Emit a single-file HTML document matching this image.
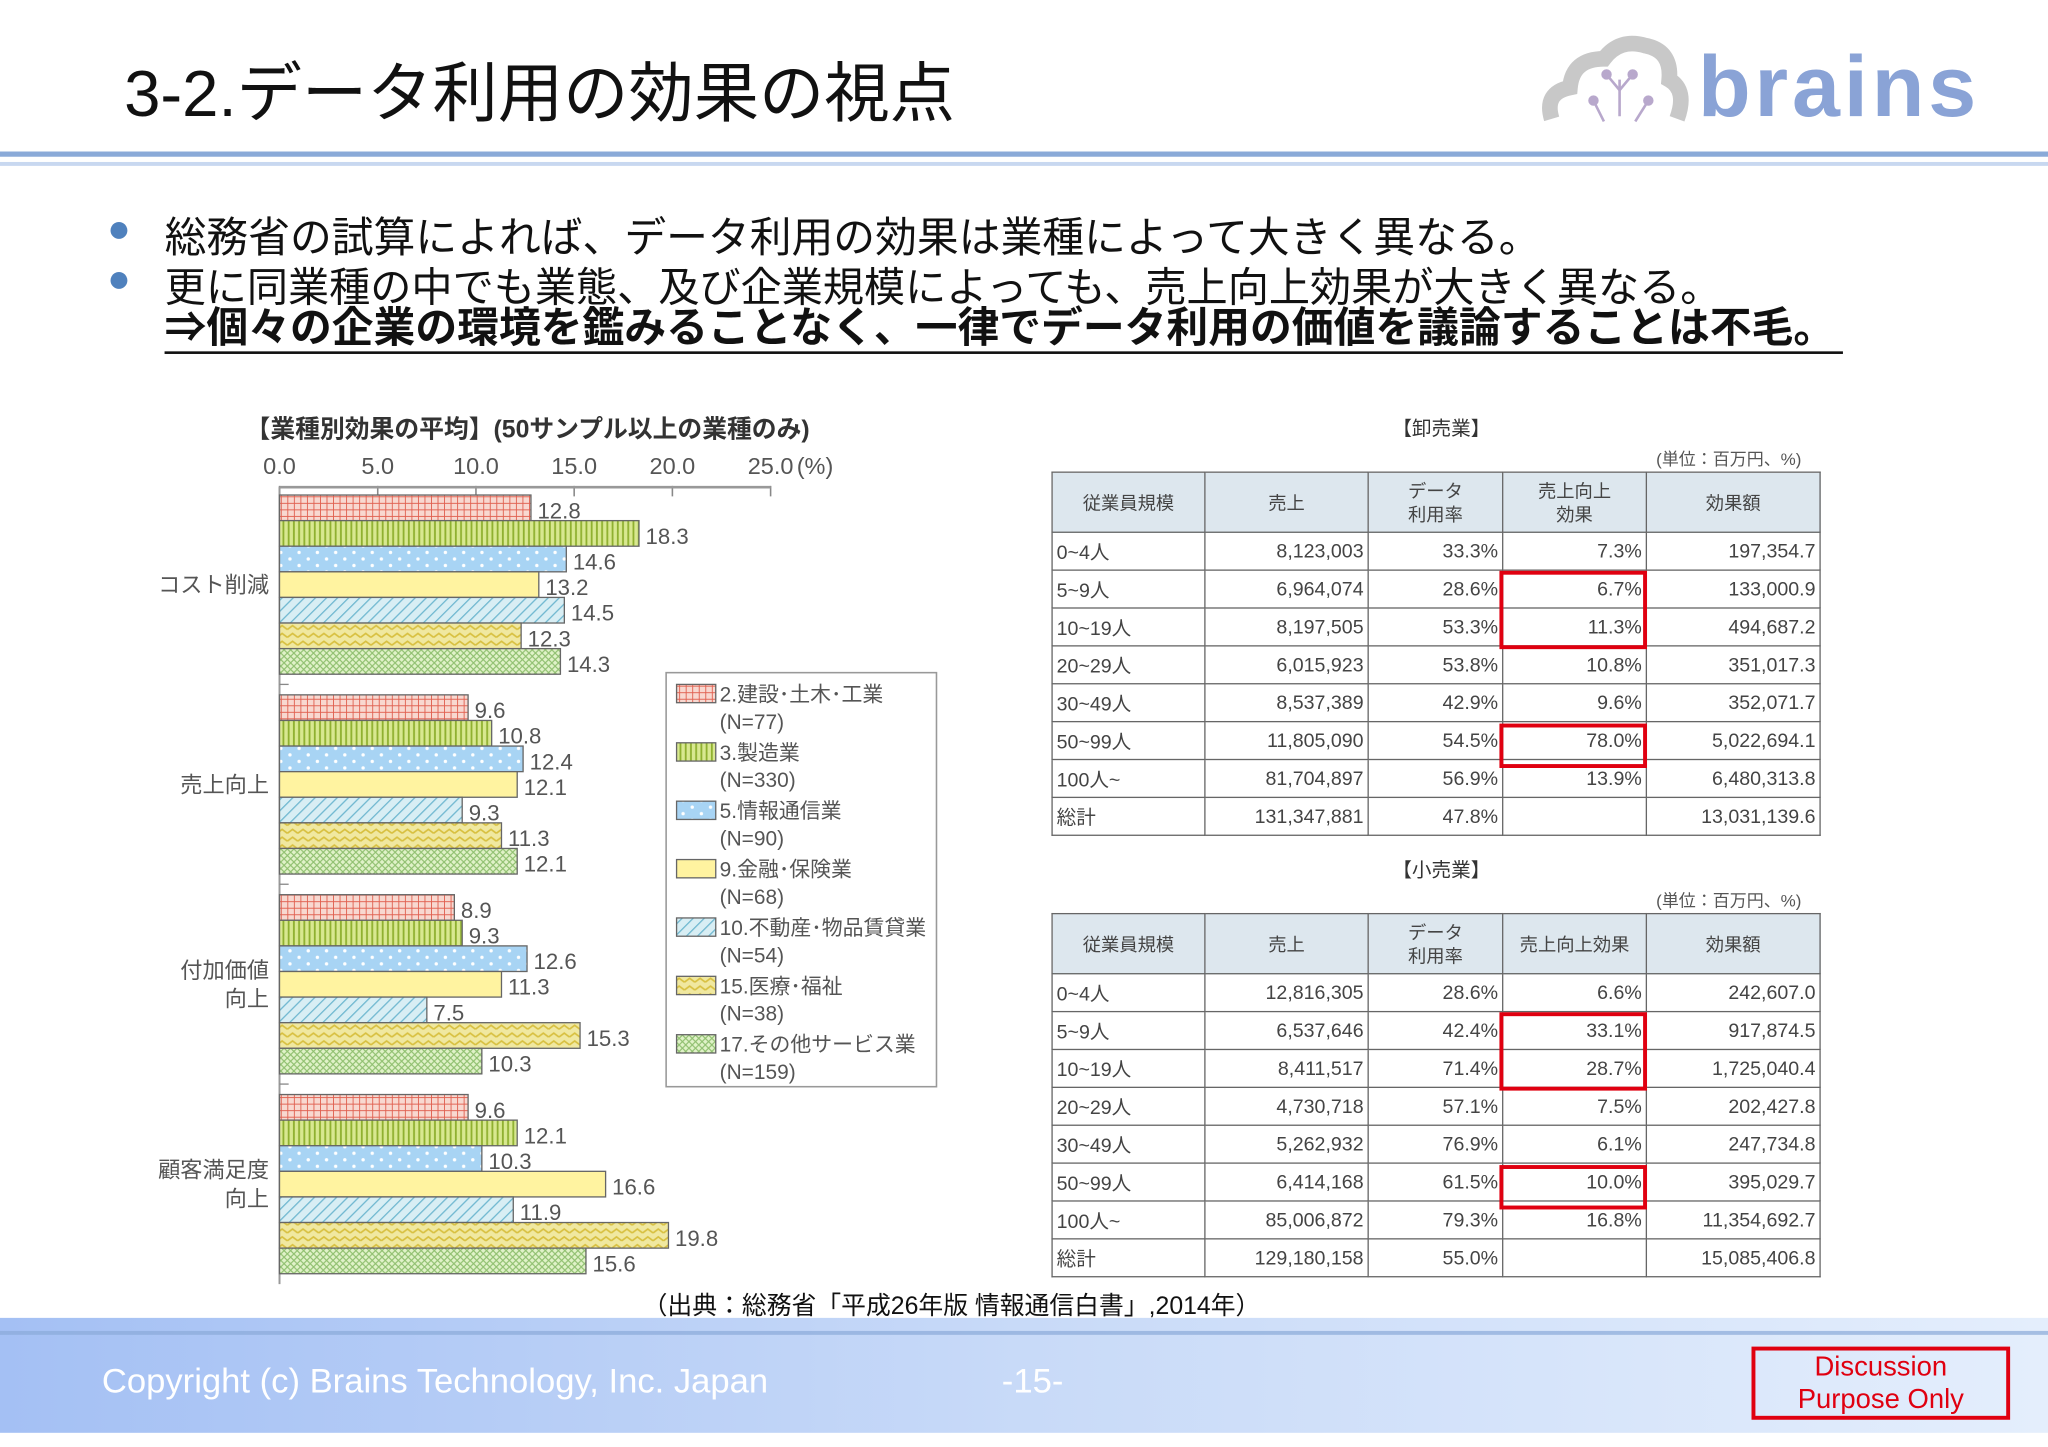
<!DOCTYPE html>
<html><head><meta charset="utf-8">
<style>
html,body{margin:0;padding:0;background:#fff;width:2048px;height:1447px;overflow:hidden}
#root{position:absolute;left:0;top:0;width:1568px;height:1108px;transform:scale(1.30612);transform-origin:0 0;font-family:"Liberation Sans","Noto Sans CJK JP",sans-serif;color:#222}
.abs{position:absolute}
table.t{position:absolute;border-collapse:collapse;font-size:15px;color:#444;font-family:"Liberation Sans","Noto Sans CJK JP",sans-serif}
table.t td,table.t th{border:1.5px solid #666;padding:0 3px;height:28px;text-align:right;font-weight:normal;white-space:nowrap}
table.t th{background:#dde7ee;text-align:center;font-size:14px;line-height:18px;height:45px}
table.t td:first-child{text-align:left}
.rb{position:absolute;border:3px solid #e00010;box-sizing:border-box}
.bul{color:#4f81bd;font-size:30px;position:absolute;left:-44px;top:2px}
</style></head><body>
<div id="root">
<div class="abs" style="left:95px;top:32px;font-size:50px;color:#111">3-2.データ利用の効果の視点</div>
<svg class="abs" style="left:1180px;top:25px" width="360" height="75">
<path d="M8 66 Q2 46 22 42 Q24 20 48 20 Q60 4 80 10 Q100 14 98 36 Q112 44 104 66" fill="none" stroke="#c8c8c8" stroke-width="12"/>
<g stroke="#b8a8cc" stroke-width="2" fill="#b8a8cc"><line x1="60" y1="64" x2="60" y2="36"/><line x1="60" y1="44" x2="50" y2="32"/><line x1="60" y1="44" x2="70" y2="32"/><line x1="48" y1="68" x2="40" y2="52"/><line x1="72" y1="68" x2="82" y2="52"/><circle cx="50" cy="32" r="3"/><circle cx="70" cy="32" r="3"/><circle cx="40" cy="52" r="3"/><circle cx="82" cy="52" r="3"/></g>
<text x="120" y="64" font-size="66" font-weight="bold" fill="#8aa3d6" font-family="Liberation Sans,sans-serif" letter-spacing="3">brains</text>
</svg>
<div class="abs" style="left:0;top:116px;width:1568px;height:4px;background:#8aaad8"></div>
<div class="abs" style="left:0;top:124px;width:1568px;height:3px;background:#c8d8f0"></div>

<div class="abs" style="left:126px;top:157px;font-size:32px;color:#111;white-space:nowrap"><span class="bul">●</span>総務省の試算によれば、データ利用の効果は業種によって大きく異なる。</div>
<div class="abs" style="left:126px;top:195px;font-size:31.5px;color:#111;white-space:nowrap"><span class="bul">●</span>更に同業種の中でも業態、及び企業規模によっても、売上向上効果が大きく異なる。</div>
<div class="abs" style="left:126px;top:234px;font-size:32px;font-weight:bold;color:#111;border-bottom:2px solid #111;width:1285px;line-height:35px;white-space:nowrap">⇒個々の企業の環境を鑑みることなく、一律でデータ利用の価値を議論することは不毛。</div>

<svg class="abs" id="chart" style="left:100px;top:310px" width="640" height="690">
<defs>
<pattern id="p0" width="5" height="5" patternUnits="userSpaceOnUse"><rect width="5" height="5" fill="#f8d8d0"/><path d="M0 0H5M0 0V5" stroke="#e06050" stroke-width="1.4"/></pattern>
<pattern id="p1" width="4" height="4" patternUnits="userSpaceOnUse"><rect width="4" height="4" fill="#d8e890"/><path d="M1 0V4" stroke="#8fb030" stroke-width="1.4"/></pattern>
<pattern id="p2" width="14" height="10" patternUnits="userSpaceOnUse"><rect width="14" height="10" fill="#a8d4f4"/><circle cx="3" cy="3" r="1.3" fill="#fff"/><circle cx="10" cy="8" r="1.3" fill="#fff"/></pattern>
<pattern id="p3" width="4" height="4" patternUnits="userSpaceOnUse"><rect width="4" height="4" fill="#fff3a0"/></pattern>
<pattern id="p4" width="6" height="6" patternUnits="userSpaceOnUse" patternTransform="rotate(45)"><rect width="6" height="6" fill="#d8eef4"/><path d="M0 0V6" stroke="#70b8d0" stroke-width="2"/></pattern>
<pattern id="p5" width="8" height="6" patternUnits="userSpaceOnUse"><rect width="8" height="6" fill="#f0e8a0"/><path d="M0 4L4 1L8 4" fill="none" stroke="#d8c040" stroke-width="1.3"/></pattern>
<pattern id="p6" width="5" height="5" patternUnits="userSpaceOnUse"><rect width="5" height="5" fill="#e0f2c8"/><path d="M0 0L5 5M5 0L0 5" stroke="#90c070" stroke-width="0.9"/></pattern>
</defs>
</svg>

<div class="abs" style="left:1066px;top:317px;font-size:15px;color:#333">【卸売業】</div>
<div class="abs" style="left:1268px;top:341px;font-size:13px;color:#555">(単位：百万円、%)</div>
<table class="t" style="left:805px;top:361px;width:589px">
<tr><th style="width:110px">従業員規模</th><th style="width:118px">売上</th><th style="width:96px">データ<br>利用率</th><th style="width:103px">売上向上<br>効果</th><th>効果額</th></tr>
<tr><td>0~4人</td><td>8,123,003</td><td>33.3%</td><td>7.3%</td><td>197,354.7</td></tr>
<tr><td>5~9人</td><td>6,964,074</td><td>28.6%</td><td>6.7%</td><td>133,000.9</td></tr>
<tr><td>10~19人</td><td>8,197,505</td><td>53.3%</td><td>11.3%</td><td>494,687.2</td></tr>
<tr><td>20~29人</td><td>6,015,923</td><td>53.8%</td><td>10.8%</td><td>351,017.3</td></tr>
<tr><td>30~49人</td><td>8,537,389</td><td>42.9%</td><td>9.6%</td><td>352,071.7</td></tr>
<tr><td>50~99人</td><td>11,805,090</td><td>54.5%</td><td>78.0%</td><td>5,022,694.1</td></tr>
<tr><td>100人~</td><td>81,704,897</td><td>56.9%</td><td>13.9%</td><td>6,480,313.8</td></tr>
<tr><td>総計</td><td>131,347,881</td><td>47.8%</td><td></td><td>13,031,139.6</td></tr>
</table>
<div class="rb" style="left:1148px;top:437px;width:113px;height:60px"></div>
<div class="rb" style="left:1148px;top:554px;width:113px;height:34px"></div>

<div class="abs" style="left:1066px;top:655px;font-size:15px;color:#333">【小売業】</div>
<div class="abs" style="left:1268px;top:679px;font-size:13px;color:#555">(単位：百万円、%)</div>
<table class="t" style="left:805px;top:699px;width:589px">
<tr><th style="width:110px">従業員規模</th><th style="width:118px">売上</th><th style="width:96px">データ<br>利用率</th><th style="width:103px">売上向上効果</th><th>効果額</th></tr>
<tr><td>0~4人</td><td>12,816,305</td><td>28.6%</td><td>6.6%</td><td>242,607.0</td></tr>
<tr><td>5~9人</td><td>6,537,646</td><td>42.4%</td><td>33.1%</td><td>917,874.5</td></tr>
<tr><td>10~19人</td><td>8,411,517</td><td>71.4%</td><td>28.7%</td><td>1,725,040.4</td></tr>
<tr><td>20~29人</td><td>4,730,718</td><td>57.1%</td><td>7.5%</td><td>202,427.8</td></tr>
<tr><td>30~49人</td><td>5,262,932</td><td>76.9%</td><td>6.1%</td><td>247,734.8</td></tr>
<tr><td>50~99人</td><td>6,414,168</td><td>61.5%</td><td>10.0%</td><td>395,029.7</td></tr>
<tr><td>100人~</td><td>85,006,872</td><td>79.3%</td><td>16.8%</td><td>11,354,692.7</td></tr>
<tr><td>総計</td><td>129,180,158</td><td>55.0%</td><td></td><td>15,085,406.8</td></tr>
</table>
<div class="rb" style="left:1148px;top:775px;width:113px;height:60px"></div>
<div class="rb" style="left:1148px;top:892px;width:113px;height:34px"></div>

<div class="abs" style="left:492px;top:985px;font-size:19px;color:#111">（出典：総務省「平成26年版 情報通信白書」,2014年）</div>

<div class="abs" style="left:0;top:1009px;width:1568px;height:88px;background:linear-gradient(90deg,#a4c0f4,#c8daf8 50%,#e4eefc)"></div>
<div class="abs" style="left:0;top:1019px;width:1568px;height:3px;background:#8aaad8;opacity:.7"></div>
<div class="abs" style="left:78px;top:1042px;font-size:26.5px;color:#fff">Copyright (c) Brains Technology, Inc. Japan</div>
<div class="abs" style="left:767px;top:1042px;font-size:26.5px;color:#fff">-15-</div>
<div class="abs" style="left:1341px;top:1031px;width:198px;height:56px;box-sizing:border-box;border:3px solid #e00010;color:#e00010;font-size:21px;text-align:center;line-height:25px;padding-top:0">Discussion<br>Purpose Only</div>
</div>
<script>
const categories=["コスト削減","売上向上","付加価値向上","顧客満足度向上"];
const industries=["2.建設･土木･工業","3.製造業","5.情報通信業","9.金融･保険業","10.不動産･物品賃貸業","15.医療･福祉","17.その他サービス業"];
const sampleN=["(N=77)","(N=330)","(N=90)","(N=68)","(N=54)","(N=38)","(N=159)"];
const costCut=[12.8,18.3,14.6,13.2,14.5,12.3,14.3];
const salesUp=[9.6,10.8,12.4,12.1,9.3,11.3,12.1];
const valueAdd=[8.9,9.3,12.6,11.3,7.5,15.3,10.3];
const satisfaction=[9.6,12.1,10.3,16.6,11.9,19.8,15.6];
const tickValues=[0,5,10,15,20,25];
const tickLabels=["0.0","5.0","10.0","15.0","20.0","25.0"];
const series=[costCut,salesUp,valueAdd,satisfaction];
const svg=document.getElementById('chart');
const NS='http://www.w3.org/2000/svg';
const X0=114,PX=15.04,Y0=69,GS=153,BH=19.6;
const x=v=>X0+v*PX;
const yb=(g,i)=>Y0+g*GS+i*BH;
function mk(t,a,txt){const e=document.createElementNS(NS,t);for(const k in a)e.setAttribute(k,a[k]);if(txt!=null)e.textContent=txt;svg.appendChild(e);return e;}
const F='Liberation Sans, Noto Sans CJK JP, sans-serif';
const ttl=mk('text',{x:88,y:25,'font-size':19,'font-weight':'bold',fill:'#333','font-family':F},'【業種別効果の平均】(50サンプル以上の業種のみ)');


tickValues.forEach((v,i)=>{
 const t=mk('text',{x:x(v),y:53,'font-size':18,fill:'#555','text-anchor':'middle','font-family':F},tickLabels[i]);
 
 
 const l=mk('line',{x1:x(v),x2:x(v),y1:62,y2:70,stroke:'#888','stroke-width':1.2});
 
 
});
const pc=mk('text',{x:x(25)+20,y:53,'font-size':18,fill:'#555','font-family':F},'(%)');


const ax=mk('line',{x1:x(0),x2:x(25),y1:63,y2:63,stroke:'#999','stroke-width':2});


const ay=mk('line',{x1:x(0),x2:x(0),y1:63,y2:yb(3,7)+8,stroke:'#999','stroke-width':1.5});


series.forEach((vals,g)=>{
 vals.forEach((v,i)=>{
  const r=mk('rect',{x:x(0),y:yb(g,i),width:v*PX,height:BH,fill:'url(#p'+i+')',stroke:'#666','stroke-width':1});
  
  
  const t=mk('text',{x:x(v)+5,y:yb(g,i)+BH/2+8,'font-size':17,fill:'#555','font-family':F},v.toFixed(1));
  
  
 });
 if(g>0){const s=mk('line',{x1:x(0),x2:x(0)+7,y1:yb(g,0)-8,y2:yb(g,0)-8,stroke:'#888'});
 
 }
 const name=categories[g];
 const lines=name.length>5?[name.slice(0,name.length-2),name.slice(-2)]:[name];
 const cy=yb(g,3)+BH/2;
 lines.forEach((ln,k)=>{
  const t=mk('text',{x:x(0)-8,y:cy+6+(k-(lines.length-1)/2)*22,'font-size':17,fill:'#555','text-anchor':'end','font-family':F},ln);
  
  
 });
});
const lg=mk('rect',{x:410,y:205,width:207,height:317,fill:'#fff',stroke:'#999','stroke-width':1.2});


industries.forEach((nm,i)=>{
 const yy=214+i*44.7;
 const s=mk('rect',{x:418,y:yy,width:30,height:14,fill:'url(#p'+i+')',stroke:'#666'});
 
 
 const t=mk('text',{x:451,y:yy+13,'font-size':16,fill:'#555','font-family':F},nm);
 
 
 const n=mk('text',{x:451,y:yy+34,'font-size':16,fill:'#555','font-family':F},sampleN[i]);
 
 
});
</script>
</body></html>
